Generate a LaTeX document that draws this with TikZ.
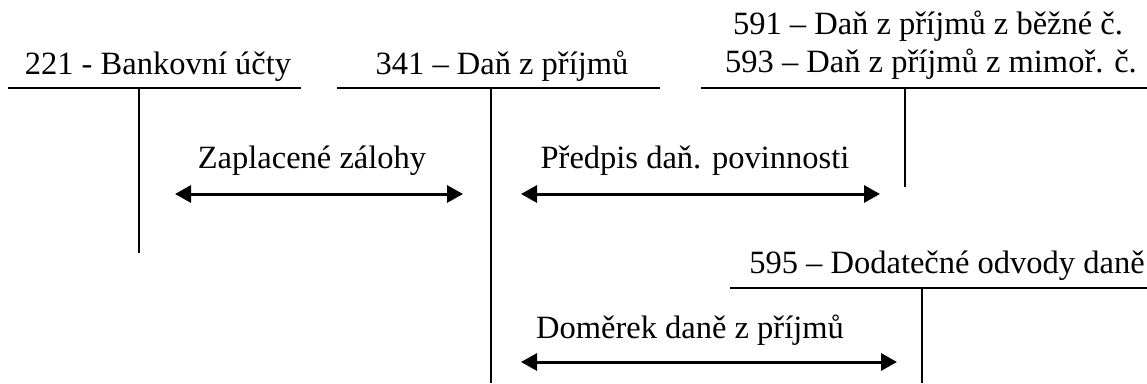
\documentclass[tikz,border=0pt]{standalone}
\usepackage{fontspec}
\setmainfont{Liberation Serif}
\usetikzlibrary{arrows.meta}
\begin{document}
\begin{tikzpicture}[x=1pt,y=-1pt,
  tline/.style={line width=1.6pt},
  flow/.style={line width=3pt,{Triangle[length=16pt,width=17pt]}-{Triangle[length=16pt,width=17pt]}},
  lbl/.style={anchor=base,inner sep=0pt,font=\fontsize{32.5}{38}\selectfont}]
\useasboundingbox (0,0) rectangle (1147,383);
% T-accounts
\draw[tline] (8,88) -- (301,88) (139,88) -- (139,253);
\draw[tline] (337,88) -- (660,88) (491,88) -- (491,383);
\draw[tline] (701,88) -- (1147,88) (905,88) -- (905,187);
\draw[tline] (730,288) -- (1147,288) (922,288) -- (922,383);
% titles
\node[lbl] (t221) at (158,74) {221 - Bankovní účty};
\node[lbl] (t341) at (502,74) {341 – Daň z příjmů};
\node[lbl] (t591) at (928,34) {591 – Daň z příjmů z běžné č.};
\node[lbl] (t593) at (931,72) {593 – Daň z příjmů z mimoř. č.};
\node[lbl] (t595) at (947,273) {595 – Dodatečné odvody daně};
% labels
\node[lbl] (l1) at (312,168) {Zaplacené zálohy};
\node[lbl] (l2) at (695,168) {Předpis daň. povinnosti};
\node[lbl] (l3) at (690,338) {Doměrek daně z příjmů};
% arrows
\coordinate (a1l) at (175,194); \coordinate (a1r) at (463,194);
\coordinate (a2l) at (521,194); \coordinate (a2r) at (880,194);
\coordinate (a3l) at (521,362); \coordinate (a3r) at (897,362);
\draw[flow] (a1l) -- (a1r);
\draw[flow] (a2l) -- (a2r);
\draw[flow] (a3l) -- (a3r);
\end{tikzpicture}
\end{document}
